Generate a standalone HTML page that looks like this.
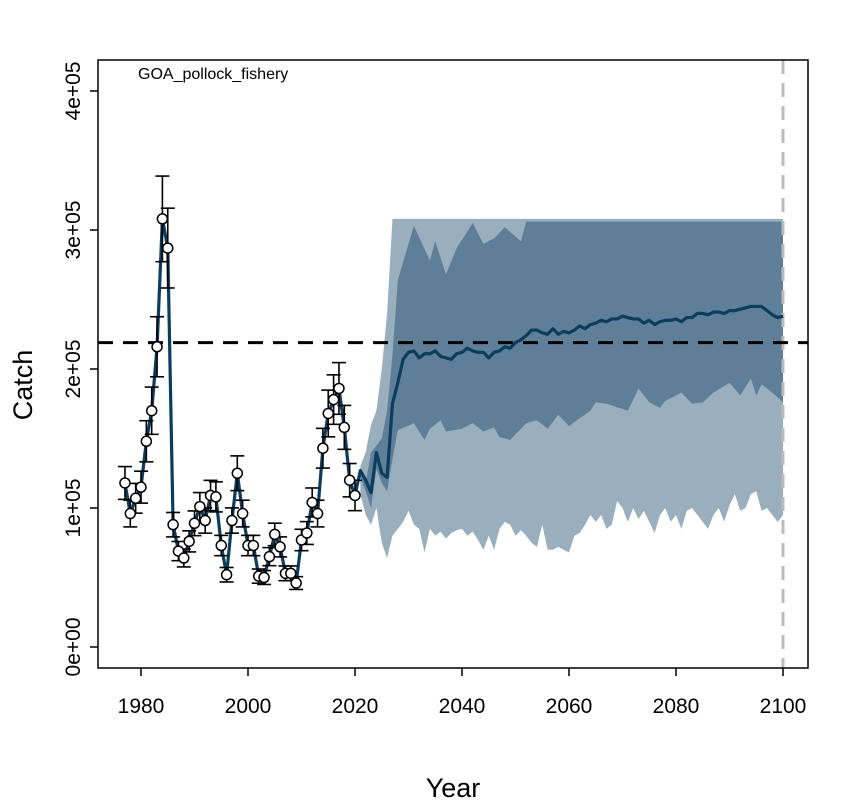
<!DOCTYPE html>
<html><head><meta charset="utf-8"><style>
body{margin:0;background:#fff;}
svg text{font-family:"Liberation Sans",sans-serif;}
</style></head><body>
<svg id="chart" width="860" height="800" xmlns="http://www.w3.org/2000/svg"></svg>
<script>
const obsYears=[1977,1978,1979,1980,1981,1982,1983,1984,1985,1986,1987,1988,1989,1990,1991,1992,1993,1994,1995,1996,1997,1998,1999,2000,2001,2002,2003,2004,2005,2006,2007,2008,2009,2010,2011,2012,2013,2014,2015,2016,2017,2018,2019,2020];
const obsCatch=[118,96,107,115,148,170,216,308,287,88,69,64,76,89,101,91,109,108,73,52,91,125,96,73,73,51,50,65,81,72,53,53,46,77,82,104,96,143,168,178,186,158,120,109];
const projYears=[2021,2022,2023,2024,2025,2026,2027,2028,2029,2030,2031,2032,2033,2034,2035,2036,2037,2038,2039,2040,2041,2042,2043,2044,2045,2046,2047,2048,2049,2050,2051,2052,2053,2054,2055,2056,2057,2058,2059,2060,2061,2062,2063,2064,2065,2066,2067,2068,2069,2070,2071,2072,2073,2074,2075,2076,2077,2078,2079,2080,2081,2082,2083,2084,2085,2086,2087,2088,2089,2090,2091,2092,2093,2094,2095,2096,2097,2098,2099,2100];
const projMedian=[127,120,111,140,125,122,175,190,207,212,213,208,211,211,213,209,208,207,211,212,215,213,212,212,208,212,213,216,215,219,221,224,228,228,226,225,229,225,227,226,228,231,229,232,233,235,234,236,236,238,237,236,236,233,235,232,234,235,235,236,234,237,237,240,240,239,241,241,240,242,242,243,244,245,245,245,242,239,237,238];
const outerLower=[110,95,88,100,75,64,80,85,90,98,88,85,68,85,80,83,78,82,84,85,80,83,77,70,80,70,85,90,88,80,84,80,75,72,88,70,70,72,70,68,80,82,88,95,90,95,85,88,105,100,90,100,92,98,90,82,95,100,90,95,85,98,100,95,90,85,95,100,90,102,110,98,100,110,112,98,100,95,90,95];
const outerUpperYears=[2021,2022,2023,2024,2025,2026,2027,2100];
const outerUpper=[130,140,160,170,200,240,308,308];
const innerUpperYears=[2021,2022,2023,2024,2025,2026,2027,2028,2031,2034,2035,2037,2039,2042,2044,2046,2048,2051,2052,2100];
const innerUpper=[125,118,140,145,150,170,210,264,303,278,292,268,287,305,290,294,302,292,306,306];
const innerLowerYears=[2021,2022,2023,2024,2025,2026,2027,2028,2031,2033,2034,2036,2037,2040,2042,2044,2046,2047,2049,2052,2054,2056,2058,2060,2064,2065,2067,2071,2073,2075,2077,2078,2081,2083,2085,2087,2090,2092,2094,2095,2096,2098,2100];
const innerLower=[122,112,100,128,118,112,135,156,161,149,157,163,155,157,161,155,158,151,149,161,163,157,167,159,170,176,175,170,186,176,172,177,183,175,176,183,190,181,193,181,189,183,176];
const refLine=219;
const xTicks=[1980,2000,2020,2040,2060,2080,2100];
const yTicks=[0,100,200,300,400];
const yTickLabels=["0e+00","1e+05","2e+05","3e+05","4e+05"];

const NS="http://www.w3.org/2000/svg";
const svg=document.getElementById('chart');
const X=y=>141+(y-1980)*5.35;
const Y=v=>647-v*1.39;
function mk(tag,attrs,parent){const e=document.createElementNS(NS,tag);for(const k in attrs)e.setAttribute(k,attrs[k]);(parent||svg).appendChild(e);return e;}
function bandPath(ux,uv,lx,lv){let d='M'+ux.map((y,i)=>X(y)+','+Y(uv[i])).join('L');for(let i=lx.length-1;i>=0;i--)d+='L'+X(lx[i])+','+Y(lv[i]);return d+'Z';}

let e=mk('path',{d:bandPath(outerUpperYears,outerUpper,projYears,outerLower),fill:'#9aafbe'});


e=mk('path',{d:bandPath(innerUpperYears,innerUpper,innerLowerYears,innerLower),fill:'#5f7f98'});



// vertical grey dashed line at 2100
e=mk('line',{x1:X(2100),x2:X(2100),y1:60,y2:668,stroke:'#bbbbbb','stroke-width':3,'stroke-dasharray':'14,9'});



// line path historical+projection
const allY=obsYears.concat(projYears), allV=obsCatch.concat(projMedian);
e=mk('path',{d:'M'+allY.map((y,i)=>X(y)+','+Y(allV[i])).join('L'),fill:'none',stroke:'#0b3d5e','stroke-width':3.2,'stroke-linejoin':'round'});



// ref line
e=mk('line',{x1:98,x2:808,y1:Y(refLine),y2:Y(refLine),stroke:'#000','stroke-width':3,'stroke-dasharray':'15,10'});



// error bars and points
obsYears.forEach((yr,i)=>{
  const x=X(yr),v=obsCatch[i],hi=Y(v*1.1),lo=Y(v*0.9);
  const g=mk('g',{stroke:'#000','stroke-width':1.6});
  
  
  mk('line',{x1:x,x2:x,y1:hi,y2:lo},g);
  mk('line',{x1:x-7,x2:x+7,y1:hi,y2:hi},g);
  mk('line',{x1:x-7,x2:x+7,y1:lo,y2:lo},g);
});
obsYears.forEach((yr,i)=>{
  const c=mk('circle',{cx:X(yr),cy:Y(obsCatch[i]),r:5,fill:'#fff',stroke:'#000','stroke-width':1.5});
  
  
});

// box
e=mk('rect',{x:98,y:60,width:710,height:608,fill:'none',stroke:'#000','stroke-width':1.5});



// x axis
xTicks.forEach(t=>{
  mk('line',{x1:X(t),x2:X(t),y1:668,y2:676,stroke:'#000','stroke-width':1.5});
  const tx=mk('text',{x:X(t),y:713,'text-anchor':'middle','font-size':21});
  tx.textContent=t;
  
  
});
// y axis
yTicks.forEach((t,i)=>{
  mk('line',{x1:90,x2:98,y1:Y(t),y2:Y(t),stroke:'#000','stroke-width':1.5});
  const tx=mk('text',{x:0,y:0,'text-anchor':'middle','font-size':21,transform:`translate(80,${Y(t)}) rotate(-90)`});
  tx.textContent=yTickLabels[i];
  
  
});
e=mk('text',{x:453,y:797,'text-anchor':'middle','font-size':27});
e.textContent='Year';


e=mk('text',{x:0,y:0,'text-anchor':'middle','font-size':27,transform:'translate(32,385) rotate(-90)'});
e.textContent='Catch';


e=mk('text',{x:138,y:79,'font-size':16});
e.textContent='GOA_pollock_fishery';


</script>
</body></html>
